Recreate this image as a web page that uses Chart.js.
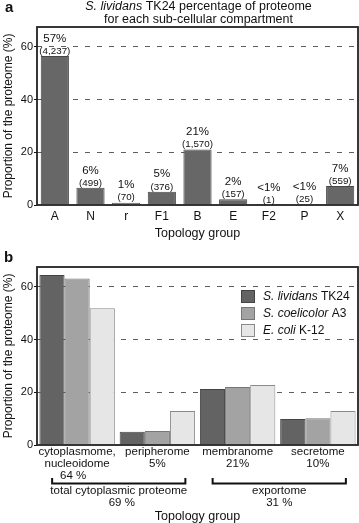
<!DOCTYPE html>
<html><head><meta charset="utf-8">
<script src="https://cdn.jsdelivr.net/npm/chart.js@4"></script>
<style>
html,body{margin:0;padding:0;background:#fff;width:359px;height:523px;overflow:hidden}
#wa{position:absolute;left:0;top:0;width:359px;height:240px}
#wb{position:absolute;left:0;top:240px;width:359px;height:283px}
</style></head><body>
<div id="wa"><canvas id="ca"></canvas></div>
<div id="wb"><canvas id="cb"></canvas></div>
<script>
// ---- data ----
const groupsA = ['A','N','r','F1','B','E','F2','P','X'];
const valuesA = [56.5, 6.5, 0.9, 5.0, 21.0, 2.2, 0.02, 0.3, 7.2];
const pctLabelsA = ['57%','6%','1%','5%','21%','2%','<1%','<1%','7%'];
const countLabelsA = ['(4,237)','(499)','(70)','(376)','(1,570)','(157)','(1)','(25)','(559)'];

const groupsB = [['cytoplasmome,','nucleoidome'],['peripherome','5%'],['membranome','21%'],['secretome','10%']];
const lividans   = [64.5, 5.0, 21.2, 9.9];
const coelicolor = [63.1, 5.3, 22.0, 10.1];
const ecoli      = [51.9, 12.9, 22.8, 12.9];
const seriesItalic = ['S. lividans','S. coelicolor','E. coli'];
const seriesPlain  = [' TK24',' A3',' K-12'];
const yTicks = [0, 20, 40, 60];
const titleA = [['S. lividans',' TK24 percentage of proteome'],['','for each sub-cellular compartment']];

const FONT = "'Liberation Sans', Arial, Helvetica, sans-serif";
Chart.defaults.font.family = FONT;
Chart.defaults.color = '#111';
Chart.defaults.animation = false;

function yScale(){
  return {
    min: 0, max: 67.5,
    afterBuildTicks: s => { s.ticks = yTicks.map(v => ({value: v})); },
    afterFit: s => { s.width = 37; },
    ticks: {font: {size: 11}, color: '#111', padding: 1},
    grid: {
      color: c => (c.tick && c.tick.value === 0) ? 'rgba(0,0,0,0)' : '#5e5e5e',
      lineWidth: 1, tickColor: '#111', tickLength: 3, tickBorderDash: [], tickWidth: 1
    },
    border: {display: false, dash: [5, 7]},
    title: {display: true, text: 'Proportion of the proteome (%)', font: {size: 12, lineHeight: 1.2}, color: '#111', padding: {top: 1, bottom: 0}}
  };
}

const boxPlugin = {
  id: 'box',
  afterDraw(chart){
    const {ctx, chartArea: a} = chart;
    ctx.save();
    ctx.strokeStyle = '#222'; ctx.lineWidth = 1.8;
    ctx.strokeRect(a.left, a.top, a.right - a.left, a.bottom - a.top);
    ctx.restore();
  }
};

function mixedText(ctx, parts, cx, y, size){
  ctx.font = 'italic ' + size + 'px ' + FONT;
  const w1 = ctx.measureText(parts[0]).width;
  ctx.font = size + 'px ' + FONT;
  const w2 = ctx.measureText(parts[1]).width;
  let x = cx - (w1 + w2) / 2;
  ctx.textAlign = 'left';
  ctx.font = 'italic ' + size + 'px ' + FONT;
  ctx.fillText(parts[0], x, y);
  ctx.font = size + 'px ' + FONT;
  ctx.fillText(parts[1], x + w1, y);
}

const annotA = {
  id: 'annotA',
  afterDraw(chart){
    const {ctx, chartArea: a} = chart;
    ctx.save();
    ctx.fillStyle = '#111';
    ctx.textBaseline = 'middle';
    const cx = (a.left + a.right) / 2 + 1;
    mixedText(ctx, titleA[0], cx, 7, 12.5);
    mixedText(ctx, titleA[1], cx, 20, 12.5);
    ctx.font = 'bold 15px ' + FONT;
    ctx.textAlign = 'left'; ctx.textBaseline = 'alphabetic';
    ctx.fillText('a', 5, 12);
    const meta = chart.getDatasetMeta(0);
    ctx.textAlign = 'center'; ctx.textBaseline = 'middle';
    meta.data.forEach((el, i) => {
      ctx.font = '9.8px ' + FONT;
      ctx.fillText(countLabelsA[i], el.x, el.y - 5);
      ctx.font = '11.5px ' + FONT;
      ctx.fillText(pctLabelsA[i], el.x, el.y - 17.5);
    });
    ctx.restore();
  }
};

new Chart(document.getElementById('ca'), {
  type: 'bar',
  data: {labels: groupsA, datasets: [{data: valuesA, backgroundColor: '#676767', borderColor: '#474747', borderWidth: 1, barPercentage: 0.79, categoryPercentage: 1}]},
  options: {
    responsive: true, maintainAspectRatio: false,
    layout: {padding: {top: 27, right: 1, left: 0, bottom: 0}},
    plugins: {legend: {display: false}, title: {display: false}, tooltip: {enabled: false}},
    scales: {
      x: {
        afterFit: s => { s.height = 35; },
        grid: {display: false, drawTicks: false},
        border: {display: false},
        ticks: {font: {size: 12}, color: '#111', padding: 4, maxRotation: 0, autoSkip: false},
        title: {display: true, text: 'Topology group', font: {size: 12.5, lineHeight: 1.1}, color: '#111', padding: {top: 0, bottom: 0}}
      },
      y: yScale()
    }
  },
  plugins: [boxPlugin, annotA]
});

const fills = ['#636363', '#a3a3a3', '#e6e6e6'];
const borders = ['#444444', '#777777', '#8a8a8a'];

const annotB = {
  id: 'annotB',
  afterDraw(chart){
    const {ctx, chartArea: a} = chart;
    const xs = chart.scales.x;
    ctx.save();
    ctx.fillStyle = '#111';
    ctx.font = 'bold 15px ' + FONT;
    ctx.textAlign = 'left'; ctx.textBaseline = 'alphabetic';
    ctx.fillText('b', 4, 22);
    // legend
    for (let i = 0; i < 3; i++) {
      const y = 56 + i * 17;
      ctx.fillStyle = fills[i]; ctx.strokeStyle = borders[i]; ctx.lineWidth = 1;
      ctx.fillRect(241.5, y - 5.5, 13, 12);
      ctx.strokeRect(241.5, y - 5.5, 13, 12);
      ctx.fillStyle = '#111';
      ctx.textBaseline = 'middle';
      ctx.font = 'italic 12px ' + FONT;
      ctx.textAlign = 'left';
      ctx.fillText(seriesItalic[i], 263, y + 1);
      const w = ctx.measureText(seriesItalic[i]).width;
      ctx.font = '12px ' + FONT;
      ctx.fillText(seriesPlain[i], 263 + w, y + 1);
    }
    // extra labels and brackets
    const c0 = xs.getPixelForValue(0), c1 = xs.getPixelForValue(1), c2 = xs.getPixelForValue(2), c3 = xs.getPixelForValue(3);
    ctx.font = '11.5px ' + FONT; ctx.textAlign = 'center'; ctx.textBaseline = 'middle';
    ctx.fillText('64 %', c0 - 4, 236);
    ctx.strokeStyle = '#111'; ctx.lineWidth = 2;
    const br = (x1, x2) => {
      ctx.beginPath();
      ctx.moveTo(x1, 238); ctx.lineTo(x1, 243.5); ctx.lineTo(x2, 243.5); ctx.lineTo(x2, 238);
      ctx.stroke();
    };
    const b1 = [c0 - 25, c1 + 28], b2 = [c2 - 25, c3 + 28];
    br(b1[0], b1[1]); br(b2[0], b2[1]);
    ctx.fillText('total cytoplasmic proteome', (b1[0] + b1[1]) / 2, 251);
    ctx.fillText('69 %', (b1[0] + b1[1]) / 2 + 3, 263);
    ctx.fillText('exportome', (b2[0] + b2[1]) / 2, 251);
    ctx.fillText('31 %', (b2[0] + b2[1]) / 2, 263);
    ctx.restore();
  }
};

new Chart(document.getElementById('cb'), {
  type: 'bar',
  data: {labels: groupsB, datasets: [
    {label: 'S. lividans TK24', data: lividans, backgroundColor: fills[0], borderColor: borders[0], borderWidth: 1},
    {label: 'S. coelicolor A3', data: coelicolor, backgroundColor: fills[1], borderColor: borders[1], borderWidth: 1},
    {label: 'E. coli K-12', data: ecoli, backgroundColor: fills[2], borderColor: borders[2], borderWidth: 1}
  ]},
  options: {
    responsive: true, maintainAspectRatio: false,
    datasets: {bar: {barPercentage: 1, categoryPercentage: 0.94}},
    layout: {padding: {top: 27, right: 1, left: 0, bottom: 0}},
    plugins: {legend: {display: false}, title: {display: false}, tooltip: {enabled: false}},
    scales: {
      x: {
        afterFit: s => { s.height = 78; },
        grid: {display: false, drawTicks: false},
        border: {display: false},
        ticks: {font: {size: 11.5, lineHeight: 1.05}, color: '#111', padding: 1, maxRotation: 0, autoSkip: false},
        title: {display: true, text: 'Topology group', font: {size: 12.5, lineHeight: 1.1}, color: '#111', padding: {top: 0, bottom: 0}}
      },
      y: yScale()
    }
  },
  plugins: [boxPlugin, annotB]
});
</script>
</body></html>
